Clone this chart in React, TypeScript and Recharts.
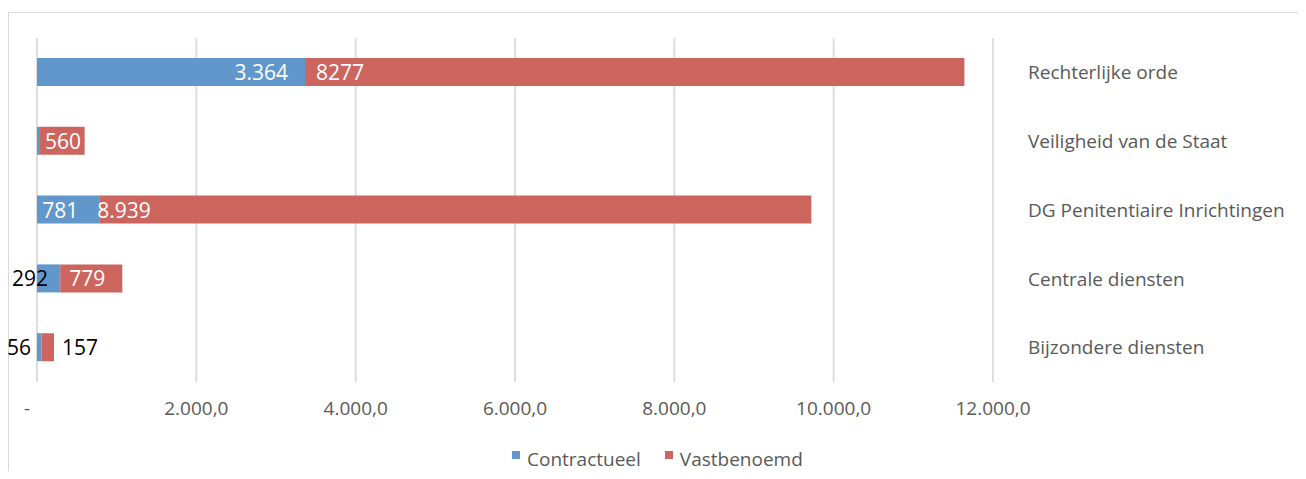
import React from 'react'
import { BarChart, Bar, XAxis, YAxis, CartesianGrid, LabelList } from 'recharts'

const categories = [
  'Rechterlijke orde',
  'Veiligheid van de Staat',
  'DG Penitentiaire Inrichtingen',
  'Centrale diensten',
  'Bijzondere diensten',
]
const contractueel = [3364, 38, 781, 292, 56]
const vastbenoemd = [8277, 560, 8939, 779, 157]
const contractueelLabels = ['3.364', '', '781', '292', '56']
const vastbenoemdLabels = ['8277', '560', '8.939', '779', '157']
const xTicks = [0, 2000, 4000, 6000, 8000, 10000, 12000]
const xTickLabels = ['-', '2.000,0', '4.000,0', '6.000,0', '8.000,0', '10.000,0', '12.000,0']
const seriesNames = ['Contractueel', 'Vastbenoemd']

const BLUE = '#6197cb'
const RED = '#cd655f'
const FONT = '"Open Sans", sans-serif'
const GREY = '#595959'

const data = categories.map((name, i) => ({
  name,
  contractueel: contractueel[i],
  vastbenoemd: vastbenoemd[i],
}))

// how each label sits relative to its segment
const contractPlace = [
  { mode: 'insideEnd', dx: -17, color: '#fff' },
  { mode: 'none', dx: 0, color: '#fff' },
  { mode: 'insideEnd', dx: -21, color: '#fff' },
  { mode: 'before', dx: 11, color: '#000' },
  { mode: 'before', dx: -6, color: '#000' },
]
const vastPlace = [
  { mode: 'insideStart', dx: 11, color: '#fff' },
  { mode: 'insideStart', dx: 5, color: '#fff' },
  { mode: 'insideStart', dx: -2, color: '#fff' },
  { mode: 'insideStart', dx: 9, color: '#fff' },
  { mode: 'after', dx: 8, color: '#000' },
]

function makeLabel(texts: string[], place: { mode: string; dx: number; color: string }[]) {
  return (props: any) => {
    const { x, y, width, height, index } = props
    const p = place[index]
    const t = texts[index]
    if (!p || p.mode === 'none' || !t) return null
    let tx = x
    let anchor: 'start' | 'end' = 'start'
    if (p.mode === 'insideEnd') {
      tx = x + width + p.dx
      anchor = 'end'
    } else if (p.mode === 'before') {
      tx = x + p.dx
      anchor = 'end'
    } else if (p.mode === 'insideStart') {
      tx = x + p.dx
    } else if (p.mode === 'after') {
      tx = x + width + p.dx
    }
    return (
      <text
        x={tx}
        y={y + height / 2}
        textAnchor={anchor}
        dominantBaseline="central"
        fill={p.color}
        fontSize={21}
        fontFamily={FONT}
      >
        {t}
      </text>
    )
  }
}

const XTick = (props: any) => {
  const { x, y, index } = props
  return (
    <text
      x={index === 0 ? x - 10 : x}
      y={y}
      dy="0.71em"
      textAnchor="middle"
      fill={GREY}
      fontSize={19}
      fontFamily={FONT}
    >
      {xTickLabels[index]}
    </text>
  )
}

const colors = [BLUE, RED]

export default function App() {
  return (
    <div style={{ position: 'relative', margin: -8, width: 1306, height: 479, overflow: 'hidden', background: '#fff' }}>
      <div
        style={{
          position: 'absolute',
          left: 8,
          top: 12,
          width: 1293,
          height: 480,
          border: '1px solid #d9d9d9',
        }}
      />
      <div style={{ position: 'absolute', left: 0, top: 0 }}>
        <BarChart
          width={1306}
          height={479}
          data={data}
          layout="vertical"
          margin={{ top: 38, right: 0, bottom: 0, left: 37 }}
          barSize={28}
        >
          <CartesianGrid horizontal={false} stroke="#dedede" strokeWidth={2} />
          <XAxis
            type="number"
            domain={[0, 12000]}
            ticks={xTicks}
            axisLine={false}
            tickLine={false}
            tickSize={0}
            tickMargin={20}
            height={97}
            tick={<XTick />}
          />
          <YAxis
            type="category"
            dataKey="name"
            orientation="right"
            width={313}
            axisLine={false}
            tickLine={false}
            tickSize={0}
            tickMargin={35}
            tick={{ fill: GREY, fontSize: 19, fontFamily: FONT, textAnchor: 'start' }}
          />
          <Bar dataKey="contractueel" stackId="a" fill={BLUE} isAnimationActive={false}>
            <LabelList dataKey="contractueel" content={makeLabel(contractueelLabels, contractPlace)} />
          </Bar>
          <Bar dataKey="vastbenoemd" stackId="a" fill={RED} isAnimationActive={false}>
            <LabelList dataKey="vastbenoemd" content={makeLabel(vastbenoemdLabels, vastPlace)} />
          </Bar>
        </BarChart>
      </div>
      <div
        style={{
          position: 'absolute',
          left: 512,
          top: 446,
          display: 'flex',
          fontFamily: FONT,
          fontSize: 19,
          lineHeight: '26px',
          color: GREY,
        }}
      >
        {seriesNames.map((n, i) => (
          <span key={n} style={{ display: 'flex', alignItems: 'flex-start', marginRight: 24 }}>
            <span style={{ width: 8, height: 8, background: colors[i], marginTop: 5, marginRight: 7 }} />
            {n}
          </span>
        ))}
      </div>
    </div>
  )
}
